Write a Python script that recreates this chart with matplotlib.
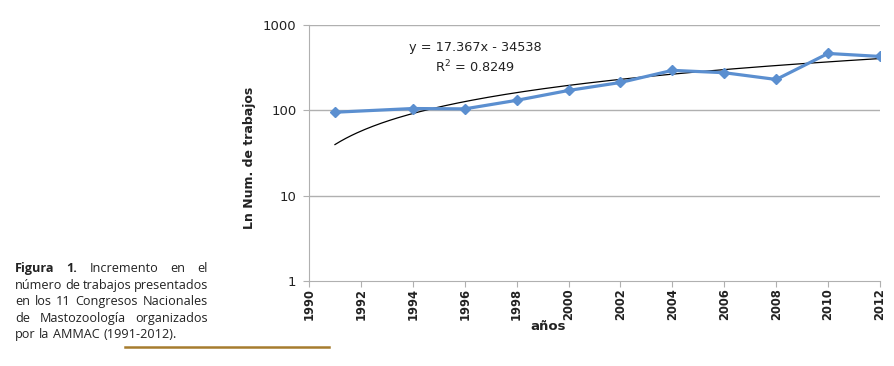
import numpy as np
import matplotlib.pyplot as plt
from matplotlib.lines import Line2D

# data
years = [1991, 1994, 1996, 1998, 2000, 2002, 2004, 2006, 2008, 2010, 2012]
trabajos = [95, 105, 104, 131, 171, 212, 294, 276, 230, 464, 428]
slope, intercept = 17.367, -34538
r2 = 0.8249
xticks = list(range(1990, 2013, 2))
yticks = [1, 10, 100, 1000]

caption = [
    [("Figura", True), ("1.", True), ("Incremento", False), ("en", False), ("el", False)],
    [("número", False), ("de", False), ("trabajos", False), ("presentados", False)],
    [("en", False), ("los", False), ("11", False), ("Congresos", False), ("Nacionales", False)],
    [("de", False), ("Mastozoología", False), ("organizados", False)],
    [("por", False), ("la", False), ("AMMAC", False), ("(1991-2012).", False)],
]

W, H = 895, 366
fig = plt.figure(figsize=(W / 100, H / 100), dpi=100)
ax = fig.add_axes([309 / W, 1 - 281 / H, (880 - 309) / W, (281 - 25) / H])

grid_c = '#b0b0b0'
txt_c = '#222222'
ax.set_yscale('log')
ax.set_ylim(1, 1000)
ax.set_xlim(1990, 2012)
ax.set_yticks(yticks)
ax.set_yticklabels([str(v) for v in yticks])
ax.yaxis.set_minor_locator(plt.NullLocator())
ax.set_xticks(xticks)
ax.set_xticklabels([str(v) for v in xticks], rotation=90, fontweight='bold')
ax.tick_params(axis='x', length=4, color=grid_c, labelsize=8.3, pad=1, labelcolor=txt_c)
ax.tick_params(axis='y', length=4, color=grid_c, labelsize=9.5, pad=5, labelcolor=txt_c)
for v in yticks[1:]:
    ax.axhline(v, color=grid_c, lw=1, zorder=0)
for s in ['top', 'right']:
    ax.spines[s].set_visible(False)
for s in ['left', 'bottom']:
    ax.spines[s].set_color(grid_c)

tx = np.linspace(years[0], years[-1], 200)
ax.plot(tx, slope * tx + intercept, color='black', lw=0.9, zorder=2)
ax.plot(years, trabajos, color='#5b8fd0', lw=2.3, marker='D', ms=5,
        mfc='#5b8fd0', mec='#5b8fd0', zorder=3)

fig.text(475 / W, 1 - 47 / H, "y = 17.367x - 34538",
         ha='center', va='center', fontsize=9.3, color=txt_c)
fig.text(475 / W, 1 - 67 / H, "R$^2$ = %.4f" % r2,
         ha='center', va='center', fontsize=9.3, color=txt_c)

fig.text(250 / W, 1 - 158 / H, "Ln Num. de trabajos", rotation=90,
         ha='center', va='center', fontsize=9, fontweight='bold', color=txt_c)
fig.text(548 / W, 1 - 327 / H, "años", ha='center', va='center',
         fontsize=9.5, fontweight='bold', color=txt_c)

# justified caption, words share a baseline
renderer = fig.canvas.get_renderer()
x0, x1 = 15, 208
ys = [272, 289, 305, 322, 338]
for i, (line, y) in enumerate(zip(caption, ys)):
    texts = []
    for word, bold in line:
        t = fig.text(0, 1 - y / H, word, fontsize=9.1, fontfamily='Open Sans',
                     fontweight='bold' if bold else 'normal', va='baseline', color=txt_c)
        texts.append(t)
    widths = [t.get_window_extent(renderer).width for t in texts]
    if i < len(caption) - 1:
        gap = (x1 - x0 - sum(widths)) / (len(texts) - 1)
    else:
        gap = 3.5
    x = x0
    for t, w in zip(texts, widths):
        t.set_x(x / W)
        x += w + gap

fig.add_artist(Line2D([125 / W, 329 / W], [1 - 347 / H, 1 - 347 / H],
                      color='#a67c2e', lw=1.8))

fig.savefig('out.png', dpi=100)
